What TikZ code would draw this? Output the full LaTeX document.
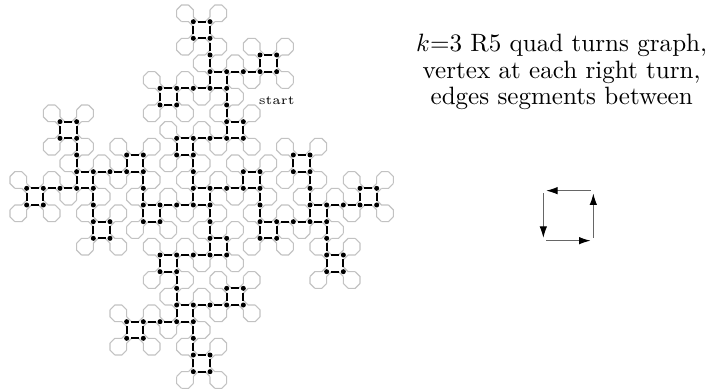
\documentclass[tikz,border=0pt]{standalone}
\usetikzlibrary{arrows.meta}

\begin{document}
\begin{tikzpicture}[x=6.65pt,y=6.65pt,
    curveline/.style={draw=black!24, line width=0.45pt},
    turnedge/.style={line width=0.8pt, dash pattern=on 3.19pt off 3.46pt, dash phase=4.92pt},
    turndot/.style={fill=black},
    turnarrow/.style={draw=black!60, line width=0.45pt, -{Latex[length=4.6pt,width=3pt,color=black]}, shorten <=1.1pt, shorten >=1.1pt}]

    \useasboundingbox (-16.6,-18.04) rectangle (26.0,5.3);

    % --- k=3 curve, four arms round the square, corners cut ---
    \def\cut{0.29}
    \xdef\px{0}\xdef\py{0}\xdef\dx{1}\xdef\dy{0}
    \xdef\rx{}\xdef\ry{}
    \gdef\edgelist{}\gdef\dotlist{}
    \foreach \m in {1,...,500}{
        \pgfmathtruncatemacro\nx{\px+(\dx)}
        \pgfmathtruncatemacro\ny{\py+(\dy)}
        % lowest non-zero base 5 digit: 1,2 left, 3,4 right; arm joins left
        \pgfmathtruncatemacro\q{mod(\m,125)}
        \ifnum\q=0 \def\dig{1}\else
            \pgfmathtruncatemacro\dig{mod(\q,5)>0 ? mod(\q,5) : (mod(\q,25)>0 ? mod(\q,25)/5 : \q/25)}
        \fi
        \ifnum\dig<3
            \pgfmathtruncatemacro\ex{0-(\dy)}\pgfmathtruncatemacro\ey{\dx}
        \else
            \pgfmathtruncatemacro\ex{\dy}\pgfmathtruncatemacro\ey{0-(\dx)}
        \fi
        \draw[curveline] ({\px+\cut*(\dx)},{\py+\cut*(\dy)}) -- ({\nx-\cut*(\dx)},{\ny-\cut*(\dy)}) -- ({\nx+\cut*(\ex)},{\ny+\cut*(\ey)});
        % right turn: vertex, edge back to the previous right turn
        \ifnum\dig>2
            \ifx\rx\empty\else
                \xdef\edgelist{\edgelist (\rx,\ry) -- (\nx,\ny)}
            \fi
            \xdef\dotlist{\dotlist (\nx,\ny) circle (0.15)}
            \xdef\rx{\nx}\xdef\ry{\ny}
        \fi
        \xdef\px{\nx}\xdef\py{\ny}\xdef\dx{\ex}\xdef\dy{\ey}
    }

    % Gráf élei és csúcsai
    \draw[turnedge] \edgelist;
    \fill[turndot] \dotlist;

    \node[font=\tiny, below] (start) at (0,0) {start};

    % Felirat
    \node[anchor=base] (title1) at (17.1,2.2) {$k$=3 R5 quad turns graph,};
    \node[anchor=base] (title2) at (17.1,0.6) {vertex at each right turn,};
    \node[anchor=base] (title3) at (17.1,-1.0) {edges segments between};

    % Körüljárás iránya
    \coordinate (qa) at (19,-6.14);
    \coordinate (qb) at (16,-6.14);
    \coordinate (qc) at (16,-9.14);
    \coordinate (qd) at (19,-9.14);
    \foreach \a/\b in {qa/qb, qb/qc, qc/qd, qd/qa}
        \draw[turnarrow] (\a) -- (\b);

\end{tikzpicture}
\end{document}
